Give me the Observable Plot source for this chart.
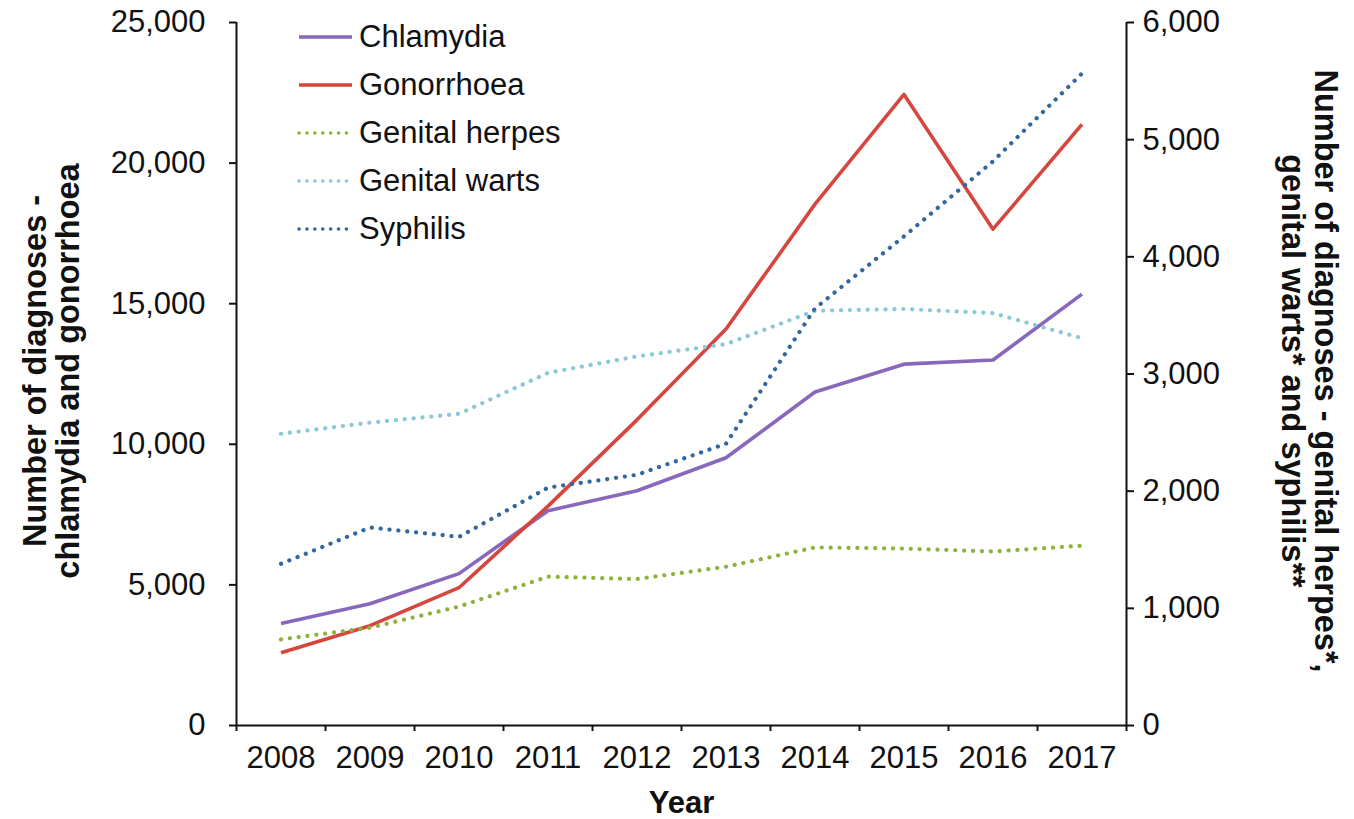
<!DOCTYPE html>
<html>
<head>
<meta charset="utf-8">
<script src="https://cdn.jsdelivr.net/npm/d3@7"></script>
<script src="https://cdn.jsdelivr.net/npm/@observablehq/plot@0.6"></script>
<style>
  html, body { margin: 0; padding: 0; background: #fff; }
  #wrap { position: relative; width: 1354px; height: 819px; font-family: "Liberation Sans", Arial, sans-serif; }
  #legend { position: absolute; left: 297px; top: 13px; }
  .row { display: flex; align-items: center; height: 48px; font-size: 31px; color: #111; }
  .row svg { margin-right: 6px; }
</style>
</head>
<body>
<div id="wrap"><div id="legend"></div></div>
<script>
const years = [2008, 2009, 2010, 2011, 2012, 2013, 2014, 2015, 2016, 2017];

// Left axis series
const chlamydia   = [3630, 4330, 5400, 7640, 8350, 9520, 11860, 12850, 13000, 15340];
const gonorrhoea  = [2590, 3550, 4900, 7800, 10870, 14100, 18540, 22440, 17650, 21380];
// Right axis series
const herpes      = [735, 835, 1015, 1270, 1250, 1355, 1520, 1510, 1485, 1535];
const warts       = [2490, 2585, 2660, 3010, 3150, 3255, 3540, 3555, 3520, 3305];
const syphilis    = [1380, 1690, 1610, 2030, 2140, 2405, 3560, 4175, 4815, 5565];

const leftTicks  = [0, 5000, 10000, 15000, 20000, 25000];
const rightTicks = [0, 1000, 2000, 3000, 4000, 5000, 6000];
const leftMax = 25000, rightMax = 6000;

const series = [
  {name: "Chlamydia",      values: chlamydia,  axis: "left",  color: "#8868bb", dotted: false},
  {name: "Gonorrhoea",     values: gonorrhoea, axis: "left",  color: "#d5463f", dotted: false},
  {name: "Genital herpes", values: herpes,     axis: "right", color: "#8fb23e", dotted: true},
  {name: "Genital warts",  values: warts,      axis: "right", color: "#8cc9d8", dotted: true},
  {name: "Syphilis",       values: syphilis,   axis: "right", color: "#33679f", dotted: true}
];

const k = leftMax / rightMax;
const rows = series.flatMap(s => s.values.map((v, i) => ({
  series: s.name, year: years[i], value: s.axis === "left" ? v : v * k
})));

const fmt = d3.format(",");
const font = "Liberation Sans, Arial, sans-serif";

const lineMarks = series.map(s => Plot.line(rows.filter(r => r.series === s.name), {
  x: "year", y: "value", stroke: s.color,
  strokeWidth: s.dotted ? 4.2 : 3.6,
  strokeDasharray: s.dotted ? "0.1 8.8" : null,
  strokeLinecap: s.dotted ? "round" : "butt",
  strokeLinejoin: "round"
}));

const boundaries = d3.range(years.length + 1).map(i => years[0] - 0.5 + i);

const chart = Plot.plot({
  width: 1354,
  height: 819,
  marginLeft: 236,
  marginRight: 228,
  marginTop: 22,
  marginBottom: 94,
  style: {fontFamily: font, fontSize: "31px", color: "#111", background: "#fff", overflow: "visible"},
  x: {type: "linear", domain: [years[0] - 0.5, years[years.length - 1] + 0.5]},
  y: {domain: [0, leftMax]},
  marks: [
    ...lineMarks,
    Plot.ruleY([0], {stroke: "#111", strokeWidth: 2}),
    Plot.ruleX([boundaries[0], boundaries[boundaries.length - 1]], {stroke: "#111", strokeWidth: 2}),
    Plot.axisX({ticks: boundaries, tickFormat: () => "", tickSize: 6, strokeWidth: 2, label: null}),
    Plot.axisX({ticks: years, tickFormat: d => String(d), tickSize: 0, tickPadding: 20, fontSize: 31, label: null}),
    Plot.axisY({ticks: leftTicks, tickFormat: fmt, tickSize: 7, tickPadding: 24, strokeWidth: 2, fontSize: 31, label: null}),
    Plot.axisY({anchor: "right", ticks: rightTicks.map(t => t * k), tickFormat: d => fmt(Math.round(d / k)),
      tickSize: 7, tickPadding: 9, strokeWidth: 2, fontSize: 31, label: null}),
    Plot.text(["Year"], {frameAnchor: "bottom", dy: 78, fontWeight: "bold", fontSize: 31, lineAnchor: "middle", fill: "#111"}),
    Plot.text(["Number of diagnoses -\nchlamydia and gonorrhoea"], {
      frameAnchor: "left", dx: -185, dy: -3, rotate: -90, fontWeight: "bold", fontSize: 32.5, lineHeight: 1.02,
      lineAnchor: "middle", textAnchor: "middle", fill: "#111"}),
    Plot.text(["Number of diagnoses - genital herpes*,\ngenital warts* and syphilis**"], {
      frameAnchor: "right", dx: 183, dy: -3, rotate: 90, fontWeight: "bold", fontSize: 32.5, lineHeight: 1.02,
      lineAnchor: "middle", textAnchor: "middle", fill: "#111"})
  ]
});

const wrap = document.getElementById("wrap");
wrap.insertBefore(chart, wrap.firstChild);

const legend = document.getElementById("legend");
for (const s of series) {
  const row = document.createElement("div");
  row.className = "row";
  const dash = s.dotted ? `stroke-dasharray="0.1 7.8" stroke-linecap="round" stroke-width="3.6"` : `stroke-width="3.6"`;
  row.innerHTML = `<svg width="56" height="10"><line x1="2" y1="5" x2="55" y2="5" stroke="${s.color}" ${dash}/></svg><span>${s.name}</span>`;
  legend.appendChild(row);
}
</script>
</body>
</html>
